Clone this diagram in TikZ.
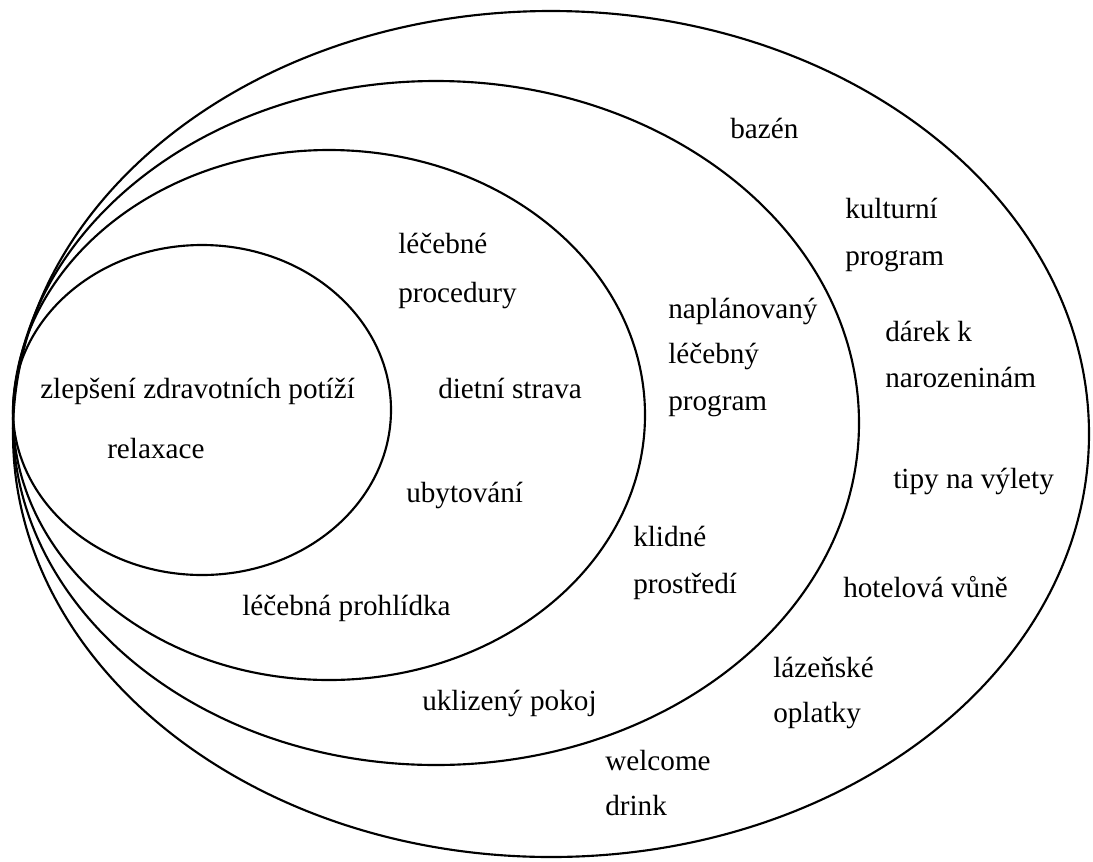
\documentclass[tikz,border=0pt]{standalone}
\usepackage{fontspec}
\setmainfont{Liberation Serif}
\begin{document}
\begin{tikzpicture}[x=0.75pt,y=-0.75pt,
  ring/.style={line width=1.6pt},
  lbl/.style={anchor=base west,inner sep=0pt,font=\fontsize{21.9pt}{26pt}\selectfont}]
\useasboundingbox (0,0) rectangle (1093,861);
% ellipses
\draw[ring] (551,434) ellipse [x radius=538, y radius=423];
\draw[ring] (436,423) ellipse [x radius=423, y radius=342];
\draw[ring] (329,415) ellipse [x radius=316, y radius=265];
\draw[ring] (202,410) ellipse [x radius=189, y radius=165];
% innermost
\node[lbl] (t1) at (40,398) {zlepšení zdravotních potíží};
\node[lbl] (t2) at (107,458) {relaxace};
% second ring
\node[lbl] (t3) at (398,253) {léčebné};
\node[lbl] (t4) at (398,302) {procedury};
\node[lbl] (t5) at (438,398) {dietní strava};
\node[lbl] (t6) at (406,502) {ubytování};
\node[lbl] (t7) at (242,615) {léčebná prohlídka};
% third ring
\node[lbl] (t8) at (668,318) {naplánovaný};
\node[lbl] (t9) at (668,363) {léčebný};
\node[lbl] (t10) at (668,410) {program};
\node[lbl] (t11) at (633,546) {klidné};
\node[lbl] (t12) at (633,593) {prostředí};
\node[lbl] (t13) at (422,710) {uklizený pokoj};
% outer ring
\node[lbl] (t14) at (730,138) {bazén};
\node[lbl] (t15) at (845,218) {kulturní};
\node[lbl] (t16) at (845,265) {program};
\node[lbl] (t17) at (885,341) {dárek k};
\node[lbl] (t18) at (885,387) {narozeninám};
\node[lbl] (t19) at (893,488) {tipy na výlety};
\node[lbl] (t20) at (843,597) {hotelová vůně};
\node[lbl] (t21) at (773,677) {lázeňské};
\node[lbl] (t22) at (773,722) {oplatky};
\node[lbl] (t23) at (605,770) {welcome};
\node[lbl] (t24) at (605,815) {drink};
\end{tikzpicture}
\end{document}
